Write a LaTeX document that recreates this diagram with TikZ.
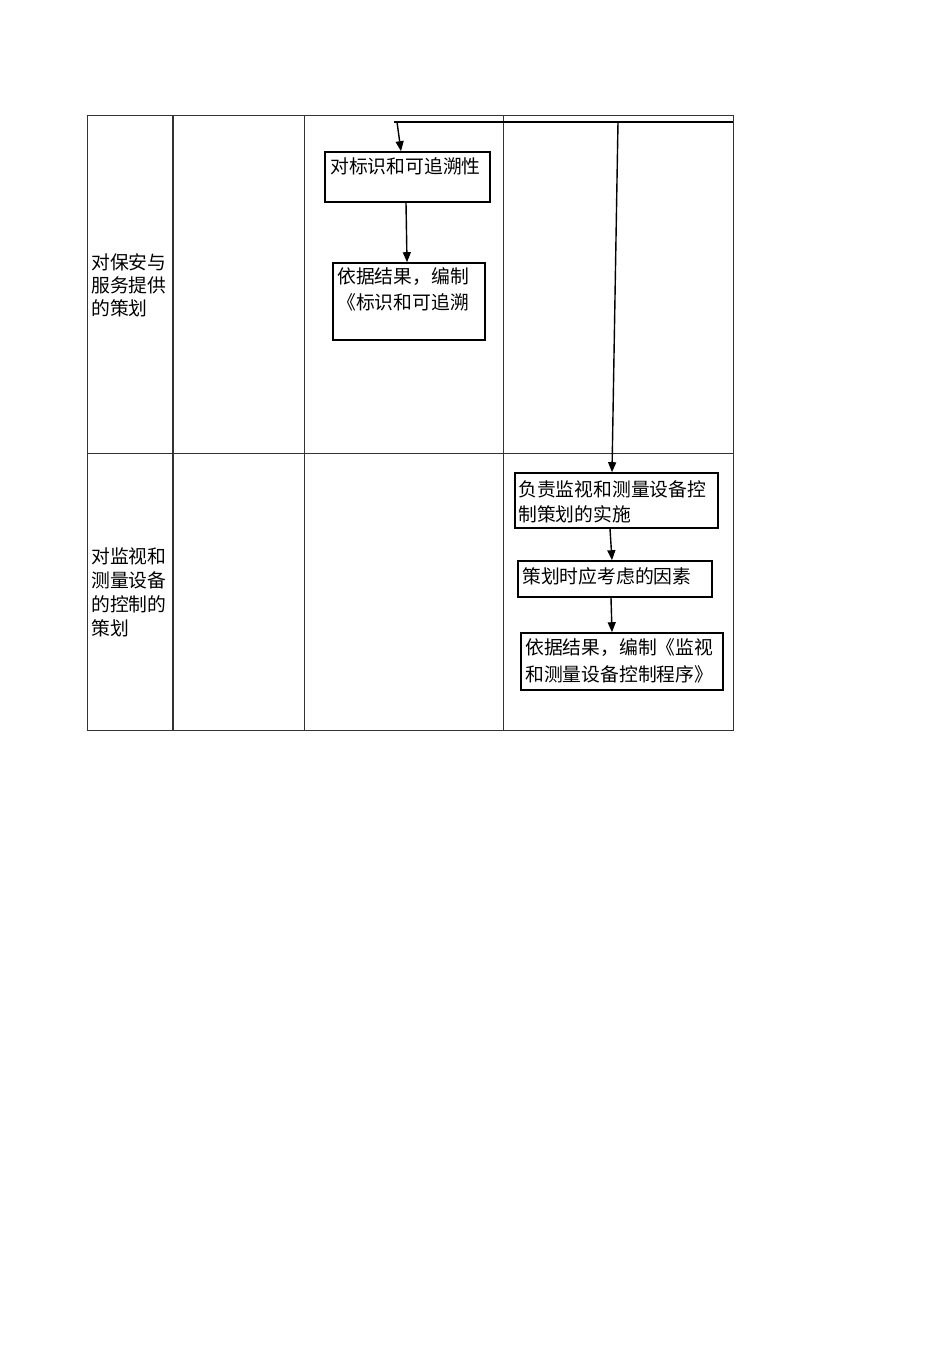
\documentclass[tikz,border=0pt]{standalone}
\usepackage{fontspec}
\setmainfont{Noto Sans CJK SC}
\usetikzlibrary{arrows.meta,calc}
\tikzset{
  box/.style={draw=black, line width=1.6pt, inner sep=0pt, fill=white},
  txt/.style={inner sep=0pt, align=left, anchor=west, font=\fontsize{18.8}{24}\selectfont},
  grid/.style={draw=black!80, line width=0.9pt},
  flow/.style={draw=black, line width=1.4pt, -{Triangle[length=10pt,width=8pt]}},
  trunk/.style={draw=black, line width=1.6pt}
}
\begin{document}
\begin{tikzpicture}[x=1pt,y=-1pt]
\useasboundingbox (0,0) rectangle (950,1345);
% table
\draw[grid] (87,115) rectangle (733,730);
\draw[grid] (87,453) -- (733,453);
\draw[grid, line width=2pt] (173,115) -- (173,730);
\draw[grid] (304,115) -- (304,730);
\draw[grid] (503,115) -- (503,730);
% left column texts
\node[txt] (l1) at (91,262) {对保安与};
\node[txt] (l2) at (91,285) {服务提供};
\node[txt] (l3) at (91,308) {的策划};
\node[txt] (m1) at (91,556) {对监视和};
\node[txt] (m2) at (91,580) {测量设备};
\node[txt] (m3) at (91,604) {的控制的};
\node[txt] (m4) at (91,628) {策划};
% boxes
\node[box, minimum width=165pt, minimum height=50pt] (b1) at (407.5,177) {};
\node[box, minimum width=152pt, minimum height=77pt] (b2) at (409,301.5) {};
\node[box, minimum width=203pt, minimum height=55pt] (b3) at (616.5,500.5) {};
\node[box, minimum width=194pt, minimum height=36pt] (b4) at (615,579) {};
\node[box, minimum width=202pt, minimum height=57pt] (b5) at (622,661.5) {};
% box texts
\node[txt] (t1) at (330,166) {对标识和可追溯性};
\node[txt] (t2a) at (337,277) {依据结果，编制};
\node[txt] (t2b) at (337,302) {《标识和可追溯};
\node[txt] (t3a) at (518,489) {负责监视和测量设备控};
\node[txt] (t3b) at (518,514) {制策划的实施};
\node[txt] (t4) at (522,576) {策划时应考虑的因素};
\node[txt] (t5a) at (525,648) {依据结果，编制《监视};
\node[txt] (t5b) at (525,674) {和测量设备控制程序》};
% connectors
\coordinate (s0) at (394,122);
\coordinate (s1) at (397,122);
\coordinate (s2) at (618,122);
\coordinate (s3) at (733,122);
\draw[trunk] (s0) -- (s3);
\draw[flow] (s1) -- (b1.north -| 401,0);
\draw[flow] (b1.south -| 406,0) -- (b2.north -| 407,0);
\draw[flow] (s2) -- (b3.north -| 612,0);
\draw[flow] (b3.south -| 610,0) -- (b4.north -| 612,0);
\draw[flow] (b4.south -| 611,0) -- (b5.north -| 612,0);
\end{tikzpicture}
\end{document}
